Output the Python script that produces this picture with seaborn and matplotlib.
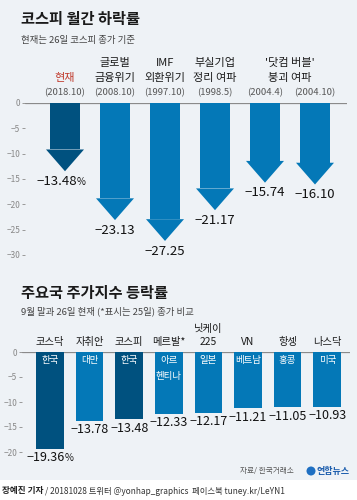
import matplotlib
matplotlib.use('Agg')
import matplotlib.pyplot as plt
import matplotlib.transforms as mtransforms
from matplotlib.patches import Rectangle, Ellipse
import seaborn as sns
import pandas as pd

# 데이터
top_names = ['현재', '글로벌\n금융위기', 'IMF\n외환위기', '부실기업\n정리 여파', '', '']
top_dates = ['(2018.10)', '(2008.10)', '(1997.10)', '(1998.5)', '(2004.4)', '(2004.10)']
top_values = [-13.48, -23.13, -27.25, -21.17, -15.74, -16.10]
top_labels = ['−13.48', '−23.13', '−27.25', '−21.17', '−15.74', '−16.10']
top_group_label = "'닷컴 버블'\n붕괴 여파"

bot_names = ['코스닥', '자취안', '코스피', '메르발*', '닛케이\n225', 'VN', '항셍', '나스닥']
bot_countries = ['한국', '대만', '한국', '아르\n헨티나', '일본', '베트남', '홍콩', '미국']
bot_values = [-19.36, -13.78, -13.48, -12.33, -12.17, -11.21, -11.05, -10.93]
bot_labels = ['−19.36', '−13.78', '−13.48', '−12.33', '−12.17', '−11.21', '−11.05', '−10.93']

BG = '#eef2f6'
DARK = '#00517f'
BLUE = '#0478b7'
W, H = 357, 500

sns.set_theme(style='white')
plt.rcParams['font.family'] = ['Noto Sans CJK KR', 'DejaVu Sans']
plt.rcParams['axes.unicode_minus'] = True


def fx(px):
    return px / W


def fy(py):
    return 1 - py / H


fig = plt.figure(figsize=(W / 100, H / 100), dpi=100, facecolor=BG)

# 하단 흰색 띠
fig.patches.append(Rectangle((0, 0), 1, fy(480), transform=fig.transFigure,
                             facecolor='white', edgecolor='none', zorder=0))

# 제목
fig.text(fx(21), fy(19), '코스피 월간 하락률', fontsize=11, fontweight='bold',
         va='center', color='#1a1a1a')
fig.text(fx(21), fy(40), '현재는 26일 코스피 종가 기준', fontsize=6.8,
         va='center', color='#444444')
fig.text(fx(21), fy(293), '주요국 주가지수 등락률', fontsize=11, fontweight='bold',
         va='center', color='#1a1a1a')
fig.text(fx(21), fy(311), '9월 말과 26일 현재 (*표시는 25일) 종가 비교', fontsize=6.8,
         va='center', color='#444444')


def style_axes(ax, ticks):
    ax.set_facecolor('none')
    for s in ax.spines.values():
        s.set_visible(False)
    ax.set_xlabel('')
    ax.set_ylabel('')
    ax.set_xticks([])
    ax.set_yticks(ticks)
    ax.set_yticklabels(['0' if t == 0 else '−%d' % -t for t in ticks])
    ax.tick_params(axis='y', left=True, length=2.5, width=0.7, color='#999999',
                   labelsize=6, labelcolor='#888888', pad=1)
    ax.axhline(0, color='#8a8a8a', lw=0.9, zorder=1)


# ---- 위쪽: 코스피 월간 하락률 (화살표) ----
ax1 = fig.add_axes([fx(25), fy(265), fx(347) - fx(25), (265 - 103) / H])
head = 4.3
df_top = pd.DataFrame({'cat': [str(i) for i in range(len(top_values))],
                       'shaft': [v + head for v in top_values]})
top_colors = [DARK] + [BLUE] * (len(top_values) - 1)
sns.barplot(data=df_top, x='cat', y='shaft', hue='cat', palette=top_colors,
            width=0.6, linewidth=0, saturation=1, legend=False, ax=ax1, zorder=2)
for i, v in enumerate(top_values):
    ax1.fill([i - 0.38, i + 0.38, i], [v + head, v + head, v],
             color=top_colors[i], lw=0, zorder=2)
ax1.set_ylim(-32, 0)
ax1.set_xlim(-0.8, 5.64)
style_axes(ax1, [0, -5, -10, -15, -20, -25, -30])

tr1 = mtransforms.blended_transform_factory(ax1.transData, fig.transFigure)
for i, (name, date) in enumerate(zip(top_names, top_dates)):
    lines = name.split('\n') if name else []
    for j, line in enumerate(reversed(lines)):
        ax1.text(i, fy(78 - 15 * j), line, transform=tr1, ha='center', va='center',
                 fontsize=8, fontweight='medium',
                 color='#c0392b' if i == 0 else '#1a1a1a')
    ax1.text(i, fy(93), date, transform=tr1, ha='center', va='center',
             fontsize=6.8, color='#555555')
for j, line in enumerate(reversed(top_group_label.split('\n'))):
    ax1.text(4.5, fy(78 - 15 * j), line, transform=tr1, ha='center', va='center',
             fontsize=8, fontweight='medium', color='#1a1a1a')

for i, (v, lab) in enumerate(zip(top_values, top_labels)):
    if i == 0:
        ax1.text(i + 0.24, v - 2.0, lab, ha='right', va='center', fontsize=9.5,
                 color='#111111', clip_on=False)
        ax1.text(i + 0.24, v - 2.1, '%', ha='left', va='center', fontsize=7,
                 color='#111111', clip_on=False)
    else:
        ax1.text(i, v - 2.0, lab, ha='center', va='center', fontsize=9.5,
                 color='#111111', clip_on=False)

# ---- 아래쪽: 주요국 주가지수 등락률 ----
ax2 = fig.add_axes([fx(22), fy(462), fx(350) - fx(22), 110 / H])
df_bot = pd.DataFrame({'cat': bot_names, 'value': bot_values})
bot_colors = [DARK if c == '한국' else BLUE for c in bot_countries]
sns.barplot(data=df_bot, x='cat', y='value', hue='cat', palette=bot_colors,
            width=0.7, linewidth=0, saturation=1, legend=False, ax=ax2, zorder=2)
ax2.set_ylim(-22, 0)
ax2.set_xlim(-0.707, 7.576)
style_axes(ax2, [0, -5, -10, -15, -20])

tr2 = mtransforms.blended_transform_factory(ax2.transData, fig.transFigure)
for i, name in enumerate(bot_names):
    for j, line in enumerate(reversed(name.split('\n'))):
        ax2.text(i, fy(342 - 13 * j), line, transform=tr2, ha='center', va='center',
                 fontsize=7.4, fontweight='medium', color='#1a1a1a')
for i, c in enumerate(bot_countries):
    for j, line in enumerate(c.split('\n')):
        ax2.text(i, -1.8 - 3.1 * j, line, ha='center', va='center', fontsize=6.8,
                 color='white', fontweight='medium', zorder=3)

for i, (v, lab) in enumerate(zip(bot_values, bot_labels)):
    if i == 0:
        ax2.text(i + 0.38, v - 1.8, lab, ha='right', va='center', fontsize=9,
                 color='#111111', clip_on=False)
        ax2.text(i + 0.38, v - 1.9, '%', ha='left', va='center', fontsize=7,
                 color='#111111', clip_on=False)
    else:
        ax2.text(i, v - 1.8, lab, ha='center', va='center', fontsize=9,
                 color='#111111', clip_on=False)

# 출처, 로고, 크레딧
fig.text(fx(294), fy(471), '자료/ 한국거래소', fontsize=5.5, ha='right', va='center',
         color='#555555')
fig.patches.append(Ellipse((fx(311), fy(471)), 9 / W, 9 / H, transform=fig.transFigure,
                           facecolor='#1e6fc2', edgecolor='none'))
fig.text(fx(317), fy(471), '연합뉴스', fontsize=6.5, fontweight='bold', ha='left',
         va='center', color='#1e5fae')
fig.text(fx(2), fy(491), '장예진 기자', fontsize=6.2, fontweight='bold', va='center',
         color='#222222')
fig.text(fx(45), fy(491), '/ 20181028 트위터 @yonhap_graphics  페이스북 tuney.kr/LeYN1',
         fontsize=6, va='center', color='#333333')

fig.savefig('out.png', dpi=100, facecolor=BG)
